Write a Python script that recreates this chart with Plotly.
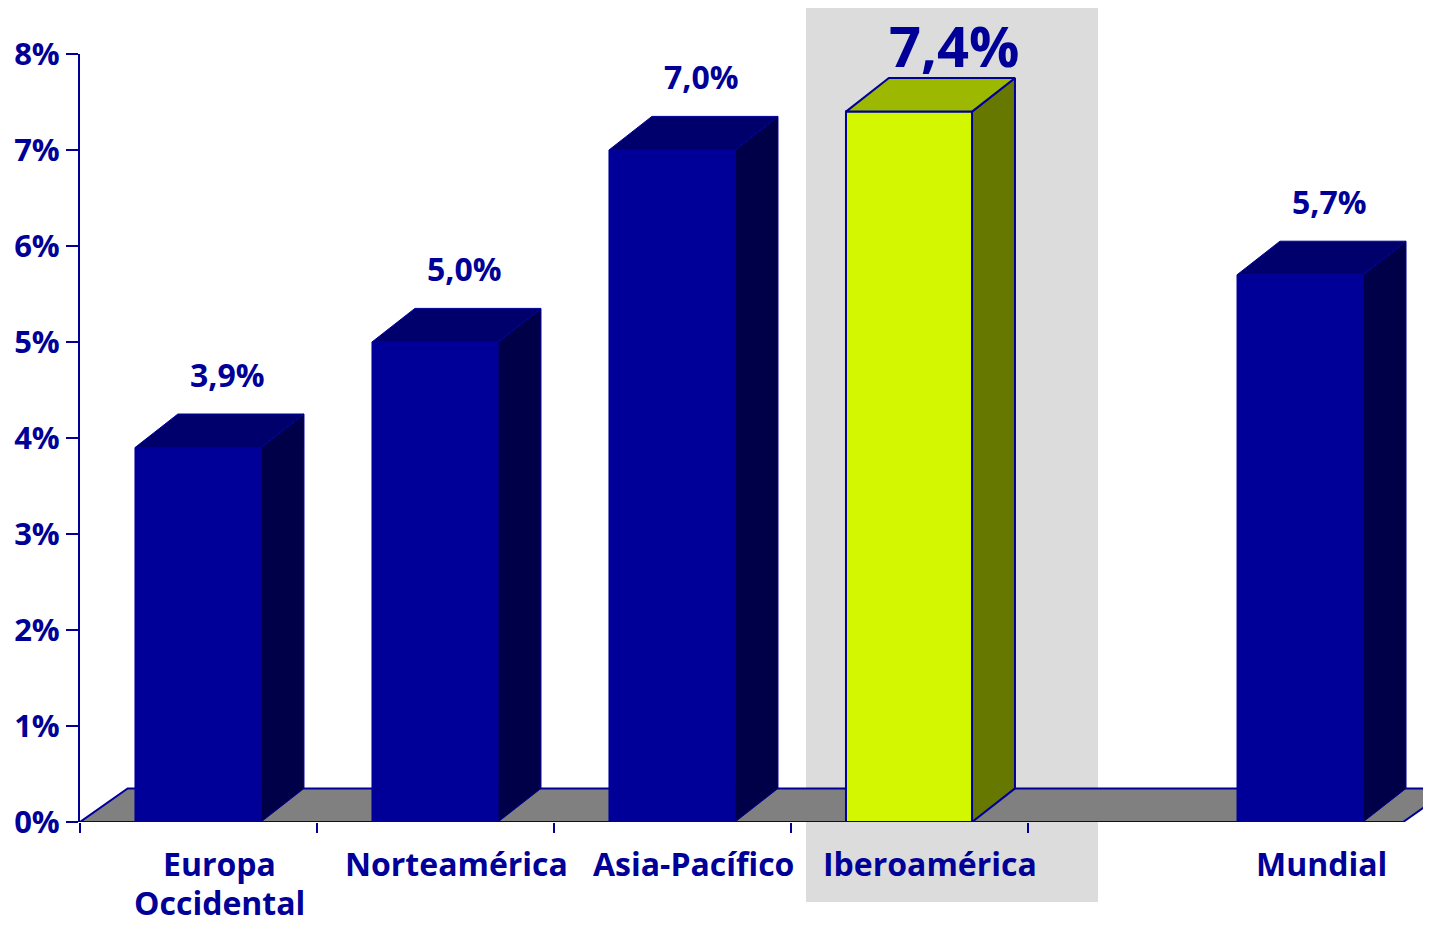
import plotly.graph_objects as go

# ---- data ----
categories = ["Europa Occidental", "Norteamérica", "Asia-Pacífico", "Iberoamérica", "Mundial"]
values = [3.9, 5.0, 7.0, 7.4, 5.7]
value_labels = ["3,9%", "5,0%", "7,0%", "7,4%", "5,7%"]
y_ticks = [0, 1, 2, 3, 4, 5, 6, 7, 8]
y_tick_labels = ["0%", "1%", "2%", "3%", "4%", "5%", "6%", "7%", "8%"]
highlight = "Iberoamérica"

# ---- layout / style ----
slots = [0, 1, 2, 3, 4.65]          # slot start of each bar on the numeric x axis
FRONT_OFF = 0.232                    # front face left offset inside a slot
FRONT_W = 0.532                      # front face width
DX, DY = 0.181, 0.35                 # 3D depth offsets (x units, y units)
Y_MAX = 8
NAVY = "#000099"
FONT = "Open Sans"
PAGE_OFF = 8                         # default body margin of the html page

fig = go.Figure()

# floor slab
floor_end = 5.583
fig.add_trace(go.Scatter(
    x=[0, floor_end, floor_end + DX + 0.02, DX + 0.02, 0],
    y=[0, 0, DY, DY, 0],
    mode="lines", fill="toself", fillcolor="#808080",
    line=dict(color=NAVY, width=2), hoverinfo="skip", showlegend=False))

for cat, v, s in zip(categories, values, slots):
    xl = s + FRONT_OFF
    xr = xl + FRONT_W
    if cat == highlight:
        cf, cs, ct, lc, lw = "#d2f700", "#667800", "#9cb800", NAVY, 2
    else:
        cf, cs, ct, lc, lw = "#000099", "#000048", "#00006c", "#000099", 1
    # front
    fig.add_trace(go.Scatter(x=[xl, xr, xr, xl, xl], y=[0, 0, v, v, 0],
                             mode="lines", fill="toself", fillcolor=cf,
                             line=dict(color=lc, width=lw), hoverinfo="skip", showlegend=False))
    # side
    fig.add_trace(go.Scatter(x=[xr, xr + DX, xr + DX, xr, xr], y=[0, DY, v + DY, v, 0],
                             mode="lines", fill="toself", fillcolor=cs,
                             line=dict(color=lc, width=lw), hoverinfo="skip", showlegend=False))
    # top
    fig.add_trace(go.Scatter(x=[xl, xl + DX, xr + DX, xr, xl], y=[v, v + DY, v + DY, v, v],
                             mode="lines", fill="toself", fillcolor=ct,
                             line=dict(color=lc, width=lw), hoverinfo="skip", showlegend=False))

annotations = []
for cat, v, s, lab in zip(categories, values, slots, value_labels):
    xc = s + FRONT_OFF + (FRONT_W + DX) / 2
    big = cat == highlight
    annotations.append(dict(
        x=xc + (0.1 if big else 0.034), xref="x",
        y=(v + (0.69 if big else 0.765)) / Y_MAX, yref="paper",
        text=f"<b>{lab}</b>", showarrow=False, yanchor="middle",
        font=dict(family=FONT, size=56 if big else 32, color=NAVY)))
    lines = cat.split(" ") if cat == "Europa Occidental" else [cat]
    for i, line in enumerate(lines):
        annotations.append(dict(
            x=xc, y=0, xref="x", yref="y", yshift=-41 - 39 * i,
            text=f"<b>{line}</b>", showarrow=False, yanchor="middle", borderpad=0,
            font=dict(family=FONT, size=32, color=NAVY)))

fig.update_layout(
    width=1431 - PAGE_OFF, height=925 - PAGE_OFF,
    margin=dict(l=80 - PAGE_OFF, r=0, t=54 - PAGE_OFF, b=103),
    paper_bgcolor="white", plot_bgcolor="rgba(0,0,0,0)",
    showlegend=False,
    annotations=annotations,
    shapes=[dict(type="rect", xref="paper", yref="paper",
                 x0=(806 - 80) / 1351, x1=(1098 - 80) / 1351,
                 y0=-80 / 768, y1=814 / 768,
                 fillcolor="#dcdcdc", line=dict(width=0), layer="below")],
    xaxis=dict(range=[0, 1351 / 237], showgrid=False, zeroline=False, showline=False,
               tickvals=[0, 1, 2, 3, 4], ticktext=["", "", "", "", ""],
               ticks="outside", ticklen=10, tickwidth=2, tickcolor=NAVY, fixedrange=True),
    yaxis=dict(range=[0, Y_MAX], showgrid=False, zeroline=False, showline=True,
               linecolor=NAVY, linewidth=2,
               tickvals=y_ticks, ticktext=[f"<b>{t}</b>" for t in y_tick_labels],
               ticks="outside", ticklen=12, tickwidth=2, tickcolor=NAVY,
               tickfont=dict(family=FONT, size=31, color=NAVY), fixedrange=True),
)

fig.write_html("out.html")
